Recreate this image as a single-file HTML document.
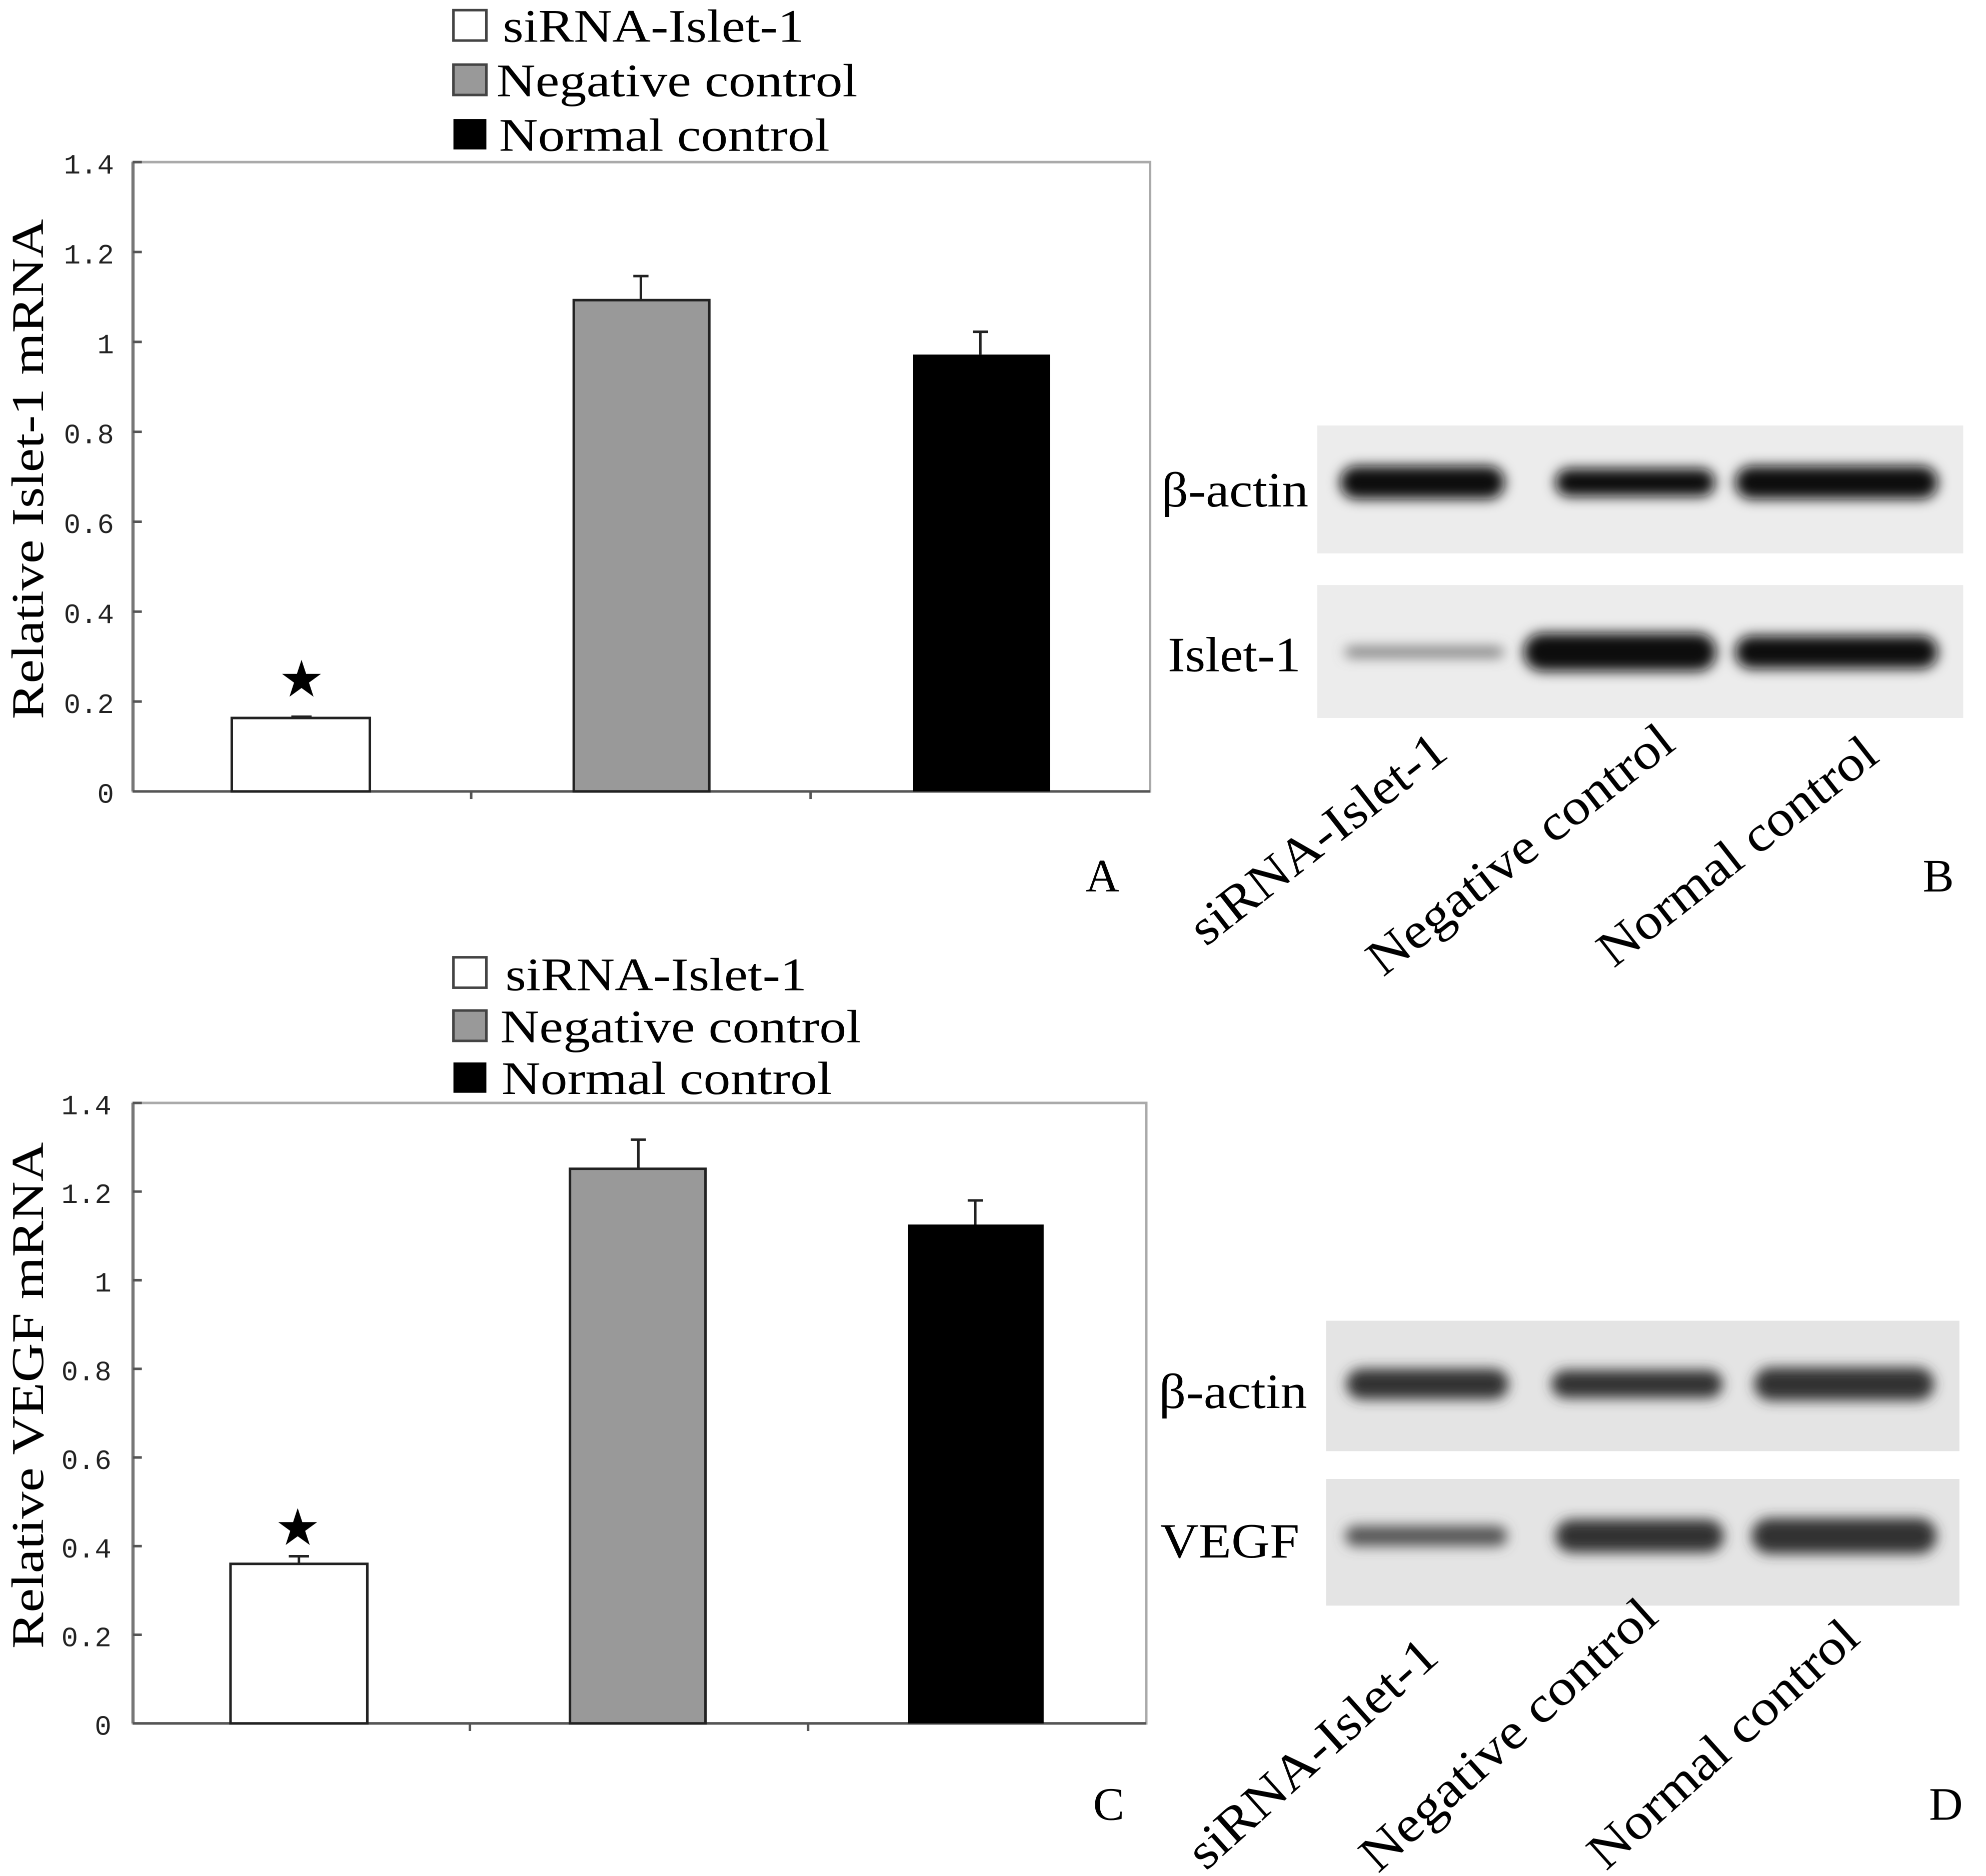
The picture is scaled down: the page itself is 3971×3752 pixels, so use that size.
<!DOCTYPE html>
<html><head><meta charset="utf-8"><style>
html,body{margin:0;padding:0;background:#fff;}
svg{display:block;}
.t{font-family:"Liberation Serif",serif;fill:#000;}
.m{font-family:"Liberation Mono",monospace;fill:#222;font-size:22px;}
</style></head><body>
<svg width="3971" height="3752" viewBox="0 0 1568 1481.5" xmlns="http://www.w3.org/2000/svg">
<defs>
<filter id="bl" x="-20%" y="-100%" width="140%" height="300%"><feGaussianBlur stdDeviation="5"/></filter>
</defs>
<rect width="1568" height="1481.5" fill="#fff"/>

<!-- Panel A -->
<g>
<rect x="358" y="8" width="26" height="24" fill="#fff" stroke="#444" stroke-width="2"/>
<text class="t" x="397" y="33" font-size="37" textLength="238" lengthAdjust="spacingAndGlyphs">siRNA-Islet-1</text>
<rect x="358" y="51" width="26" height="24" fill="#999" stroke="#444" stroke-width="2"/>
<text class="t" x="392" y="76" font-size="37" textLength="285" lengthAdjust="spacingAndGlyphs">Negative control</text>
<rect x="358" y="94" width="26" height="24" fill="#000"/>
<text class="t" x="394" y="119" font-size="37" textLength="261" lengthAdjust="spacingAndGlyphs">Normal control</text>

<rect x="105" y="128" width="803" height="497" fill="none" stroke="#aaa" stroke-width="2"/>
<line x1="105" y1="128" x2="105" y2="625" stroke="#777" stroke-width="2.5"/>
<line x1="105" y1="625" x2="908" y2="625" stroke="#555" stroke-width="2"/>
<g stroke="#555" stroke-width="2">
<line x1="105" y1="128" x2="112" y2="128"/><line x1="105" y1="199" x2="112" y2="199"/><line x1="105" y1="270" x2="112" y2="270"/><line x1="105" y1="341" x2="112" y2="341"/><line x1="105" y1="412" x2="112" y2="412"/><line x1="105" y1="483" x2="112" y2="483"/><line x1="105" y1="554" x2="112" y2="554"/>
<line x1="372" y1="625" x2="372" y2="631"/><line x1="640" y1="625" x2="640" y2="631"/>
</g>
<g class="m" text-anchor="end">
<text x="90" y="137">1.4</text><text x="90" y="208">1.2</text><text x="90" y="279">1</text><text x="90" y="350">0.8</text><text x="90" y="421">0.6</text><text x="90" y="492">0.4</text><text x="90" y="563">0.2</text><text x="90" y="634">0</text>
</g>
<text class="t" font-size="36" transform="translate(34,568) rotate(-90)" textLength="395" lengthAdjust="spacingAndGlyphs">Relative Islet-1 mRNA</text>
<rect x="183" y="567" width="109" height="58" fill="#fff" stroke="#222" stroke-width="2"/>
<line x1="230" y1="566" x2="246" y2="566" stroke="#222" stroke-width="2"/>
<text class="t" x="238" y="550" font-size="40" text-anchor="middle">★</text>
<line x1="506" y1="218" x2="506" y2="237" stroke="#222" stroke-width="2"/><line x1="500" y1="218" x2="512" y2="218" stroke="#222" stroke-width="2"/>
<rect x="453" y="237" width="107" height="388" fill="#999" stroke="#222" stroke-width="2"/>
<line x1="774" y1="262" x2="774" y2="280" stroke="#222" stroke-width="2"/><line x1="768" y1="262" x2="780" y2="262" stroke="#222" stroke-width="2"/>
<rect x="721" y="280" width="108" height="345" fill="#000"/>
<text class="t" x="857" y="704" font-size="37">A</text>
</g>

<!-- Panel B -->
<g>
<rect x="1040" y="336" width="510" height="101" fill="#ececec"/>
<rect x="1040" y="462" width="510" height="105" fill="#ececec"/>
<g filter="url(#bl)" fill="#111">
<rect x="1058" y="368" width="130" height="26" rx="13"/>
<rect x="1228" y="370" width="126" height="22" rx="11"/>
<rect x="1370" y="368" width="160" height="26" rx="13"/>
<rect x="1062" y="511" width="125" height="8" rx="4" fill="#777"/>
<rect x="1203" y="500" width="152" height="30" rx="15"/>
<rect x="1370" y="502" width="160" height="26" rx="13"/>
</g>
<text class="t" x="917" y="400" font-size="39" textLength="116" lengthAdjust="spacingAndGlyphs">β-actin</text>
<text class="t" x="922" y="530" font-size="39" textLength="105" lengthAdjust="spacingAndGlyphs">Islet-1</text>
<text class="t" font-size="40" transform="translate(952,748) rotate(-38)" textLength="245" lengthAdjust="spacingAndGlyphs">siRNA-Islet-1</text>
<text class="t" font-size="40" transform="translate(1092,772) rotate(-38)" textLength="295" lengthAdjust="spacingAndGlyphs">Negative control</text>
<text class="t" font-size="40" transform="translate(1274,765) rotate(-38)" textLength="268" lengthAdjust="spacingAndGlyphs">Normal control</text>
<text class="t" x="1518" y="704" font-size="37">B</text>
</g>

<!-- Panel C -->
<g>
<rect x="358" y="756" width="26" height="24" fill="#fff" stroke="#444" stroke-width="2"/>
<text class="t" x="399" y="782" font-size="37" textLength="238" lengthAdjust="spacingAndGlyphs">siRNA-Islet-1</text>
<rect x="358" y="798" width="26" height="24" fill="#999" stroke="#444" stroke-width="2"/>
<text class="t" x="395" y="823" font-size="37" textLength="285" lengthAdjust="spacingAndGlyphs">Negative control</text>
<rect x="358" y="839" width="26" height="24" fill="#000"/>
<text class="t" x="396" y="864" font-size="37" textLength="261" lengthAdjust="spacingAndGlyphs">Normal control</text>

<rect x="105" y="871" width="800" height="490" fill="none" stroke="#aaa" stroke-width="2"/>
<line x1="105" y1="871" x2="105" y2="1361" stroke="#777" stroke-width="2.5"/>
<line x1="105" y1="1361" x2="905" y2="1361" stroke="#555" stroke-width="2"/>
<g stroke="#555" stroke-width="2">
<line x1="105" y1="871" x2="112" y2="871"/><line x1="105" y1="941" x2="112" y2="941"/><line x1="105" y1="1011" x2="112" y2="1011"/><line x1="105" y1="1081" x2="112" y2="1081"/><line x1="105" y1="1151" x2="112" y2="1151"/><line x1="105" y1="1221" x2="112" y2="1221"/><line x1="105" y1="1291" x2="112" y2="1291"/>
<line x1="371" y1="1361" x2="371" y2="1367"/><line x1="638" y1="1361" x2="638" y2="1367"/>
</g>
<g class="m" text-anchor="end">
<text x="88" y="880">1.4</text><text x="88" y="950">1.2</text><text x="88" y="1020">1</text><text x="88" y="1090">0.8</text><text x="88" y="1160">0.6</text><text x="88" y="1230">0.4</text><text x="88" y="1300">0.2</text><text x="88" y="1370">0</text>
</g>
<text class="t" font-size="36" transform="translate(34,1302) rotate(-90)" textLength="400" lengthAdjust="spacingAndGlyphs">Relative VEGF mRNA</text>
<rect x="182" y="1235" width="108" height="126" fill="#fff" stroke="#222" stroke-width="2"/>
<line x1="236" y1="1229" x2="236" y2="1235" stroke="#222" stroke-width="2"/><line x1="228" y1="1229" x2="244" y2="1229" stroke="#222" stroke-width="2"/>
<text class="t" x="235" y="1220" font-size="40" text-anchor="middle">★</text>
<line x1="504" y1="900" x2="504" y2="923" stroke="#222" stroke-width="2"/><line x1="498" y1="900" x2="510" y2="900" stroke="#222" stroke-width="2"/>
<rect x="450" y="923" width="107" height="438" fill="#999" stroke="#222" stroke-width="2"/>
<line x1="770" y1="948" x2="770" y2="967" stroke="#222" stroke-width="2"/><line x1="764" y1="948" x2="776" y2="948" stroke="#222" stroke-width="2"/>
<rect x="717" y="967" width="107" height="394" fill="#000"/>
<text class="t" x="863" y="1437" font-size="37">C</text>
</g>

<!-- Panel D -->
<g>
<rect x="1047" y="1043" width="500" height="103" fill="#e4e4e4"/>
<rect x="1047" y="1168" width="500" height="100" fill="#e4e4e4"/>
<g filter="url(#bl)" fill="#333">
<rect x="1063" y="1081" width="128" height="24" rx="12"/>
<rect x="1225" y="1082" width="135" height="22" rx="11"/>
<rect x="1385" y="1080" width="142" height="26" rx="13"/>
<rect x="1062" y="1205" width="128" height="16" rx="8" fill="#555"/>
<rect x="1228" y="1200" width="133" height="26" rx="13"/>
<rect x="1383" y="1199" width="146" height="28" rx="14"/>
</g>
<text class="t" x="915" y="1112" font-size="39" textLength="117" lengthAdjust="spacingAndGlyphs">β-actin</text>
<text class="t" x="916" y="1230" font-size="39" textLength="110" lengthAdjust="spacingAndGlyphs">VEGF</text>
<text class="t" font-size="40" transform="translate(952,1478) rotate(-42)" textLength="250" lengthAdjust="spacingAndGlyphs">siRNA-Islet-1</text>
<text class="t" font-size="40" transform="translate(1088,1480) rotate(-42)" textLength="300" lengthAdjust="spacingAndGlyphs">Negative control</text>
<text class="t" font-size="40" transform="translate(1268,1478) rotate(-42)" textLength="272" lengthAdjust="spacingAndGlyphs">Normal control</text>
<text class="t" x="1523" y="1437" font-size="37">D</text>
</g>
</svg>
</body></html>
